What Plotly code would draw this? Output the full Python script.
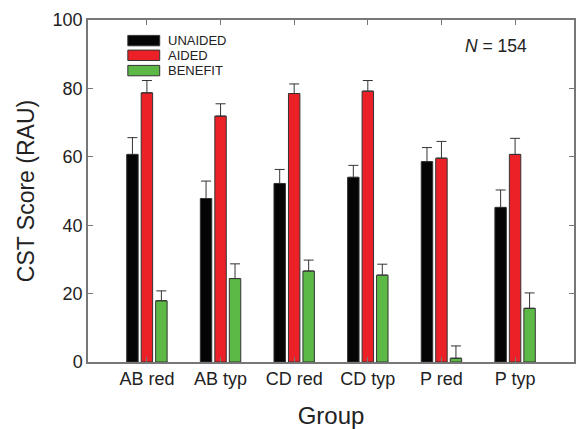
import plotly.graph_objects as go

groups = ["AB red", "AB typ", "CD red", "CD typ", "P red", "P typ"]
unaided = [60.7, 47.8, 52.2, 54.0, 58.6, 45.2]
unaided_err = [4.9, 5.1, 4.1, 3.5, 4.1, 5.1]
aided = [78.7, 71.9, 78.5, 79.2, 59.6, 60.7]
aided_err = [3.6, 3.6, 2.8, 3.1, 4.9, 4.7]
benefit = [17.9, 24.4, 26.6, 25.4, 1.1, 15.7]
benefit_err = [2.9, 4.3, 3.2, 3.2, 3.6, 4.5]

series = [
    ("UNAIDED", unaided, unaided_err, "#050505"),
    ("AIDED", aided, aided_err, "#ec2127"),
    ("BENEFIT", benefit, benefit_err, "#5cb946"),
]

fig = go.Figure()
for name, vals, errs, col in series:
    fig.add_trace(go.Bar(
        name=name, x=groups, y=vals, marker_color=col,
        marker_line=dict(color="#333333", width=1),
        error_y=dict(type="data", symmetric=False, array=errs,
                     arrayminus=[0] * len(errs), color="#333333",
                     thickness=1, width=5),
        showlegend=False,
    ))

font = "Liberation Sans, Arial, sans-serif"
txt = "#222222"
fig.update_layout(
    width=577, height=429,
    margin=dict(l=88, r=1, t=20, b=67),
    paper_bgcolor="white", plot_bgcolor="white",
    barmode="group", bargap=0.41, bargroupgap=0.21,
    font=dict(family=font, color=txt),
)
fig.update_xaxes(
    range=[-0.8, 5.8], showline=True, linecolor="#777777", linewidth=1.5,
    mirror="ticks", ticks="inside", ticklen=5, tickcolor="#777777",
    tickfont=dict(size=18, family=font, color=txt),
    title=dict(text="Group", font=dict(size=24, family=font, color=txt), standoff=20),
    showgrid=False,
)
fig.update_yaxes(
    range=[0, 100], dtick=20, showline=True, linecolor="#777777", linewidth=1.5,
    mirror="ticks", ticks="inside", ticklen=5, tickcolor="#777777",
    tickfont=dict(size=18, family=font, color=txt),
    title=dict(text="CST Score (RAU)", font=dict(size=23, family=font, color=txt), standoff=12),
    showgrid=False, zeroline=False,
)

# legend drawn as shapes + text to match wide swatches
x0, x1 = (128 - 88) / 488, (160 - 88) / 488
rows_y = [40.6, 55.3, 70.6]
for (name, _, _, col), yc in zip(series, rows_y):
    ytop = 1 - (yc - 5.2 - 20) / 342
    ybot = 1 - (yc + 5.2 - 20) / 342
    fig.add_shape(type="rect", xref="paper", yref="paper", x0=x0, x1=x1,
                  y0=ybot, y1=ytop, fillcolor=col,
                  line=dict(color="#333333", width=1))
    fig.add_annotation(xref="paper", yref="paper", x=(166 - 88) / 488,
                       y=1 - (yc - 20) / 342, text=name, showarrow=False,
                       xanchor="left", yanchor="middle",
                       font=dict(size=13, family=font, color=txt))

fig.add_annotation(xref="paper", yref="paper", x=(498 - 88) / 488,
                   y=1 - (46 - 20) / 342, text="<i>N</i> = 154", showarrow=False,
                   xanchor="center", yanchor="middle",
                   font=dict(size=17.5, family=font, color=txt))

fig.write_html("out.html")
